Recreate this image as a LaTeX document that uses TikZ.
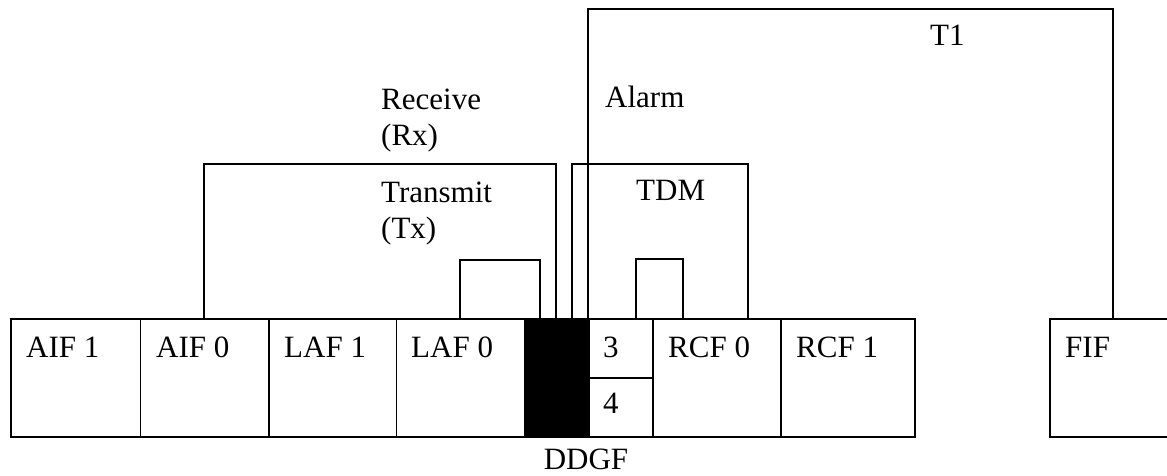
\documentclass[tikz,border=0pt]{standalone}
\usepackage{fontspec}
\setmainfont{Liberation Serif}
\begin{document}
\begin{tikzpicture}[x=1pt,y=-1pt,
  cell/.style={draw, line width=1.6pt, rectangle, anchor=north west, inner sep=0pt, minimum height=118pt},
  lbl/.style={inner sep=0pt, anchor=base west, font=\fontsize{31}{36}\selectfont},
  wire/.style={line width=1.6pt},
  boldwire/.style={line width=2.6pt}]
\useasboundingbox (0,0) rectangle (1167,476);
\clip (0,0) rectangle (1167,476);
% connector end points on the module row
\coordinate (rxL) at (204,318);  \coordinate (rxR) at (556,318);
\coordinate (tdmL) at (572,318); \coordinate (tdmR) at (748,318);
\coordinate (t1L) at (588,318);  \coordinate (t1R) at (1113,318);
\coordinate (txL) at (460,318);  \coordinate (txR) at (540,318);
\coordinate (tdL) at (636,318);  \coordinate (tdR) at (683,318);
% connectors
\draw[wire] (rxL) -- ++(0,-154) -| (rxR);
\draw[wire] (tdmL) -- ++(0,-154) -| (tdmR);
\draw[wire] (t1L) -- ++(0,-309) -| (t1R);
\draw[wire] (txL) -- ++(0,-58) -| (txR);
\draw[boldwire] (tdL) -- ++(0,-59) -| (tdR);
% module row
\node[cell, minimum width=129.7pt] (aif1) at (10,318) {};
\node[cell, minimum width=128.3pt] (aif0) at (139.7,318) {};
\node[cell, minimum width=127.7pt] (laf1) at (268,318) {};
\node[cell, minimum width=127.8pt] (laf0) at (395.7,318) {};
\node[cell, minimum width=64.5pt, fill=black] (ddgf) at (523.5,318) {};
\node[cell, minimum width=64pt, minimum height=59pt] (p3) at (588,318) {};
\node[cell, minimum width=64pt, minimum height=59pt] (p4) at (588,377) {};
\node[cell, minimum width=128pt] (rcf0) at (652,318) {};
\node[cell, minimum width=134pt] (rcf1) at (780,318) {};
\node[cell, minimum width=140pt] (fif) at (1049,318) {};
% module labels
\node[lbl] (l-aif1) at (26,357) {AIF 1};
\node[lbl] (l-aif0) at (156,357) {AIF 0};
\node[lbl] (l-laf1) at (284,357) {LAF 1};
\node[lbl] (l-laf0) at (411,357) {LAF 0};
\node[lbl] (l-p3) at (603,357) {3};
\node[lbl] (l-p4) at (603,413) {4};
\node[lbl] (l-rcf0) at (668,357) {RCF 0};
\node[lbl] (l-rcf1) at (796,357) {RCF 1};
\node[lbl] (l-fif) at (1065,357) {FIF};
\node[lbl, anchor=base] (l-ddgf) at (586,469) {DDGF};
% connector labels
\node[lbl] (l-rx1) at (381,110) {Receive};
\node[lbl] (l-rx2) at (381,146) {(Rx)};
\node[lbl] (l-tx1) at (381,202) {Transmit};
\node[lbl] (l-tx2) at (381,238) {(Tx)};
\node[lbl] (l-alarm) at (605,108) {Alarm};
\node[lbl] (l-tdm) at (636,200) {TDM};
\node[lbl] (l-t1) at (930,46) {T1};
\end{tikzpicture}
\end{document}
